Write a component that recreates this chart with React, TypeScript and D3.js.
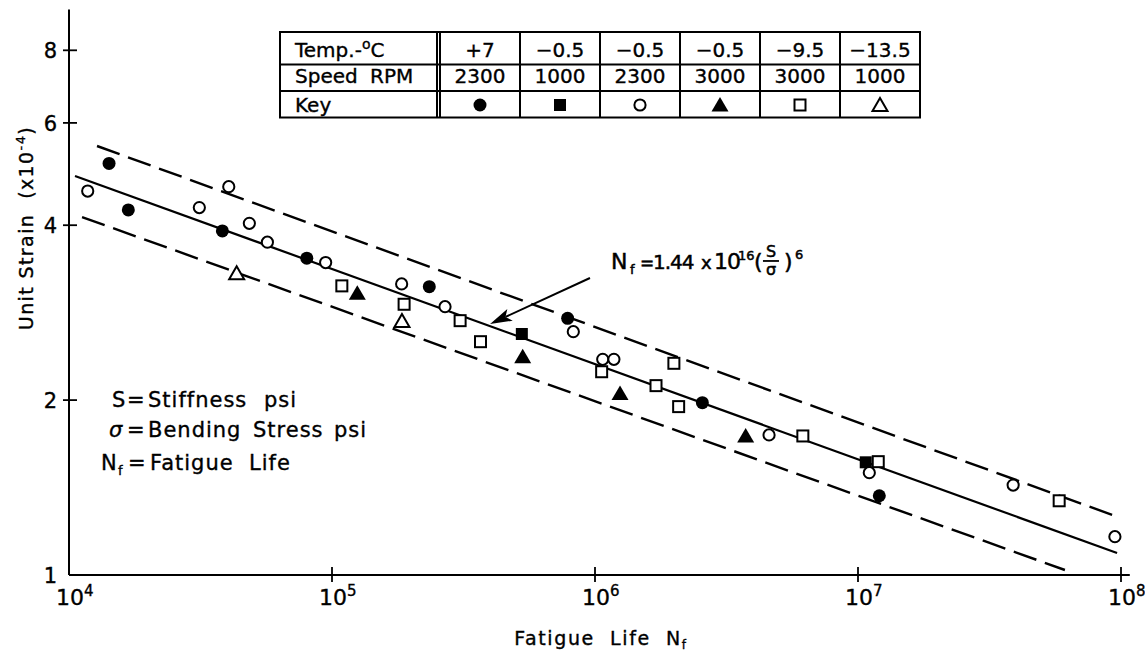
import React from "react";
import * as d3 from "d3";

const W = 1145;
const H = 655;
const FONT = "'DejaVu Sans', sans-serif";

// Test conditions shown in the key table
const tempLabels = ["+7", "\u22120.5", "\u22120.5", "\u22120.5", "\u22129.5", "\u221213.5"];
const speedLabels = ["2300", "1000", "2300", "3000", "3000", "1000"];
const keyMarkers = ["filledCircle", "filledSquare", "openCircle", "filledTriangle", "openSquare", "openTriangle"];

// Fatigue life (cycles) and unit strain (x10^-4) for each condition
const t7rpm2300: [number, number][] = [
  [14200, 5.11], [16810, 4.25], [38300, 3.91], [80200, 3.51],
  [234400, 3.135], [787000, 2.766], [2.56e6, 1.98], [1.205e7, 1.369],
];
const tm05rpm1000: [number, number][] = [
  [527000, 2.599], [1.07e7, 1.563],
];
const tm05rpm2300: [number, number][] = [
  [11780, 4.58], [40500, 4.66], [31300, 4.29], [48500, 4.03], [56800, 3.74],
  [94600, 3.45], [184000, 3.17], [269000, 2.896], [827000, 2.623],
  [1.07e6, 2.351], [1.18e6, 2.351], [4.59e6, 1.742], [1.104e7, 1.5],
  [3.89e7, 1.428], [9.48e7, 1.164],
];
const tm05rpm3000: [number, number][] = [
  [124800, 3.053], [531000, 2.375], [1.245e6, 2.054], [3.74e6, 1.735],
];
const tm95rpm3000: [number, number][] = [
  [109000, 3.145], [188000, 2.924], [307000, 2.74], [367000, 2.521],
  [1.06e6, 2.238], [1.995e6, 2.314], [1.706e6, 2.118], [2.08e6, 1.949],
  [6.17e6, 1.735], [1.194e7, 1.567], [5.82e7, 1.342],
];
const tm135rpm1000: [number, number][] = [
  [43400, 3.306], [184500, 2.736],
];

const seriesData = [t7rpm2300, tm05rpm1000, tm05rpm2300, tm05rpm3000, tm95rpm3000, tm135rpm1000];

// Regression line and the scatter band around it
const fitLine: [number, number][] = [[10540, 4.861], [9.66e7, 1.091]];
const upperBand: [number, number][] = [[12780, 5.475], [9.49e7, 1.264]];
const lowerBand: [number, number][] = [[11210, 4.132], [6.12e7, 1.02]];

// Axis ticks
const xTickExponents = [4, 5, 6, 7, 8];
const yTicks = [1, 2, 4, 6, 8];

// Equation callout (arrow tail, arrow tip, text anchor) in data units
const arrowTail: [number, number] = [9.57e5, 3.245];
const arrowTip: [number, number] = [3.99e5, 2.704];
const equationAnchor: [number, number] = [1.15e6, 3.363];

const x = d3.scaleLog().domain([1e4, 1e8]).range([69, 1121]);
const y = d3.scaleLog().domain([1, 10]).range([575, -6]);

function Marker({ kind, cx, cy }: { kind: string; cx: number; cy: number }) {
  const sw = 2;
  switch (kind) {
    case "filledCircle":
      return <circle cx={cx} cy={cy} r={6.5} fill="#000" />;
    case "openCircle":
      return <circle cx={cx} cy={cy} r={5.6} fill="#fff" stroke="#000" strokeWidth={sw} />;
    case "filledSquare":
      return <rect x={cx - 6} y={cy - 6} width={12} height={12} fill="#000" />;
    case "openSquare":
      return <rect x={cx - 5.5} y={cy - 5.5} width={11} height={11} fill="#fff" stroke="#000" strokeWidth={sw} />;
    case "filledTriangle": {
      const p = `${cx},${cy - 8} ${cx + 8.5},${cy + 6.5} ${cx - 8.5},${cy + 6.5}`;
      return <polygon points={p} fill="#000" />;
    }
    case "openTriangle": {
      const p = `${cx},${cy - 7} ${cx + 7.5},${cy + 6} ${cx - 7.5},${cy + 6}`;
      return <polygon points={p} fill="#fff" stroke="#000" strokeWidth={sw} strokeLinejoin="miter" />;
    }
    default:
      return null;
  }
}

export default function App() {
  const line = d3
    .line<[number, number]>()
    .x((d) => x(d[0]))
    .y((d) => y(d[1]));

  // table geometry
  const tLeft = 280;
  const tDouble = 437;
  const colStart = 440;
  const colW = 80;
  const rows = [32, 64.5, 91, 117.5];
  const tRight = colStart + colW * tempLabels.length;
  const rowText = [50, 76, 105];

  const [tx, ty] = [x(arrowTail[0]), y(arrowTail[1])];
  const [hx, hy] = [x(arrowTip[0]), y(arrowTip[1])];
  const ang = Math.atan2(hy - ty, hx - tx);
  const headLen = 22;
  const headHalf = 6.5;
  const bx = hx - headLen * Math.cos(ang);
  const by = hy - headLen * Math.sin(ang);
  const px = -Math.sin(ang);
  const py = Math.cos(ang);
  const nx = hx - (headLen - 5) * Math.cos(ang);
  const ny = hy - (headLen - 5) * Math.sin(ang);
  const head = `${hx},${hy} ${bx + px * headHalf},${by + py * headHalf} ${nx},${ny} ${bx - px * headHalf},${by - py * headHalf}`;

  const ax = x(equationAnchor[0]);
  const ay = y(equationAnchor[1]);
  const pre = { whiteSpace: "pre" as const };
  const ink = { stroke: "#000", strokeWidth: 0.35 };

  return (
    <svg width={W} height={H} style={{ position: "absolute", left: 0, top: 0, background: "#fff" }} fontFamily={FONT}>
      <rect x={0} y={0} width={W} height={H} fill="#fff" />

      {/* axes */}
      <line x1={x(1e4)} y1={y(9.4)} x2={x(1e4)} y2={y(1)} stroke="#000" strokeWidth={2} />
      <line x1={x(1e4)} y1={y(1)} x2={x(1.08e8)} y2={y(1)} stroke="#000" strokeWidth={2} />
      {yTicks.filter((v) => v > 1).map((v) => (
        <line key={`yt${v}`} x1={x(1e4) - 6} x2={x(1e4) + 8} y1={y(v)} y2={y(v)} stroke="#000" strokeWidth={1.8} />
      ))}
      {xTickExponents.filter((e) => e > 4).map((e) => (
        <line key={`xt${e}`} x1={x(10 ** e)} x2={x(10 ** e)} y1={y(1) - 8} y2={y(1) + 7} stroke="#000" strokeWidth={1.8} />
      ))}
      <g {...ink}>
        {yTicks.map((v) => (
          <text key={`yl${v}`} x={x(1e4) - 12} y={y(v) + 1} fontSize={21} textAnchor="end" dominantBaseline="central">
            {v}
          </text>
        ))}
        {xTickExponents.map((e) => (
          <text key={`xl${e}`} x={x(10 ** e) - 13} y={y(1) + 30} fontSize={22}>
            10
            <tspan dy={-9} fontSize={15}>{e}</tspan>
          </text>
        ))}

        {/* axis titles */}
        <text transform={`translate(33, 228) rotate(-90)`} fontSize={19} textAnchor="middle" letterSpacing={1.4} style={pre}>
          Unit Strain  (x10<tspan dy={-8} fontSize={13}>-4</tspan><tspan dy={8}>)</tspan>
        </text>
        <text x={601} y={645} fontSize={19} textAnchor="middle" letterSpacing={1.6} style={pre}>
          Fatigue  Life  N<tspan dy={4} fontSize={12}>f</tspan>
        </text>
      </g>

      {/* band and fit lines */}
      <path d={line(upperBand) ?? ""} fill="none" stroke="#000" strokeWidth={2.4} strokeDasharray="24 9" />
      <path d={line(lowerBand) ?? ""} fill="none" stroke="#000" strokeWidth={2.4} strokeDasharray="24 9" />
      <path d={line(fitLine) ?? ""} fill="none" stroke="#000" strokeWidth={2.2} />

      {/* data */}
      {seriesData.map((s, i) =>
        s.map((d, j) => <Marker key={`m${i}-${j}`} kind={keyMarkers[i]} cx={x(d[0])} cy={y(d[1])} />)
      )}

      {/* equation callout */}
      <line x1={tx} y1={ty} x2={nx} y2={ny} stroke="#000" strokeWidth={2} />
      <polygon points={head} fill="#000" />
      <g fontSize={22} {...ink} strokeWidth={0.5}>
        <text x={ax} y={ay}>N</text>
        <text x={ax + 19} y={ay + 5} fontSize={13}>f</text>
        <text x={ax + 29} y={ay} fontSize={17}>=</text>
        <text x={ax + 42} y={ay} fontSize={20} letterSpacing={-1}>1.44</text>
        <text x={ax + 90} y={ay} fontSize={18}>x</text>
        <text x={ax + 103} y={ay} letterSpacing={-1}>10</text>
        <text x={ax + 127} y={ay - 9} fontSize={13}>16</text>
        <text x={ax + 143} y={ay}>(</text>
        <text x={ax + 160} y={ay - 12} fontSize={16} textAnchor="middle">S</text>
        <line x1={ax + 152} x2={ax + 168} y1={ay - 8} y2={ay - 8} stroke="#000" strokeWidth={1.8} />
        <text x={ax + 160} y={ay + 6} fontSize={16} textAnchor="middle">σ</text>
        <text x={ax + 173} y={ay}>)</text>
        <text x={ax + 184} y={ay - 10} fontSize={13}>6</text>
      </g>

      {/* symbol definitions */}
      <g fontSize={21} letterSpacing={1} {...ink}>
        <text x={112} y={407}>S</text>
        <text x={127} y={407}>=</text>
        <text x={148} y={407}>Stiffness</text>
        <text x={264} y={407}>psi</text>
        <text x={109} y={437} fontStyle="italic">σ</text>
        <text x={127} y={437}>=</text>
        <text x={148} y={437}>Bending</text>
        <text x={253} y={437}>Stress</text>
        <text x={334} y={437}>psi</text>
        <text x={101} y={470}>N</text>
        <text x={118} y={475} fontSize={13}>f</text>
        <text x={128} y={470}>=</text>
        <text x={150} y={470}>Fatigue</text>
        <text x={249} y={470}>Life</text>
      </g>

      {/* key table */}
      <g stroke="#000" strokeWidth={2}>
        <rect x={tLeft} y={rows[0]} width={tRight - tLeft} height={rows[3] - rows[0]} fill="none" />
        <line x1={tLeft} x2={tRight} y1={rows[1]} y2={rows[1]} />
        <line x1={tLeft} x2={tRight} y1={rows[2]} y2={rows[2]} />
        <line x1={tDouble} x2={tDouble} y1={rows[0]} y2={rows[3]} />
        <line x1={colStart} x2={colStart} y1={rows[0]} y2={rows[3]} />
        {tempLabels.slice(1).map((_, i) => (
          <line key={`c${i}`} x1={colStart + colW * (i + 1)} x2={colStart + colW * (i + 1)} y1={rows[0]} y2={rows[3]} />
        ))}
      </g>
      <g fontSize={20} {...ink}>
        <text x={295} y={rowText[0]} dominantBaseline="central">
          Temp.-<tspan dy={-6} fontSize={14}>o</tspan><tspan dy={6}>C</tspan>
        </text>
        <text x={295} y={rowText[1]} dominantBaseline="central">Speed</text>
        <text x={370} y={rowText[1]} dominantBaseline="central">RPM</text>
        <text x={295} y={rowText[2]} dominantBaseline="central">Key</text>
        {tempLabels.map((t, i) => (
          <text key={`tt${i}`} x={colStart + colW * (i + 0.5)} y={rowText[0]} textAnchor="middle" dominantBaseline="central">
            {t}
          </text>
        ))}
        {speedLabels.map((t, i) => (
          <text key={`st${i}`} x={colStart + colW * (i + 0.5)} y={rowText[1]} textAnchor="middle" dominantBaseline="central">
            {t}
          </text>
        ))}
      </g>
      {keyMarkers.map((k, i) => (
        <Marker key={`k${i}`} kind={k} cx={colStart + colW * (i + 0.5)} cy={rowText[2]} />
      ))}
    </svg>
  );
}
